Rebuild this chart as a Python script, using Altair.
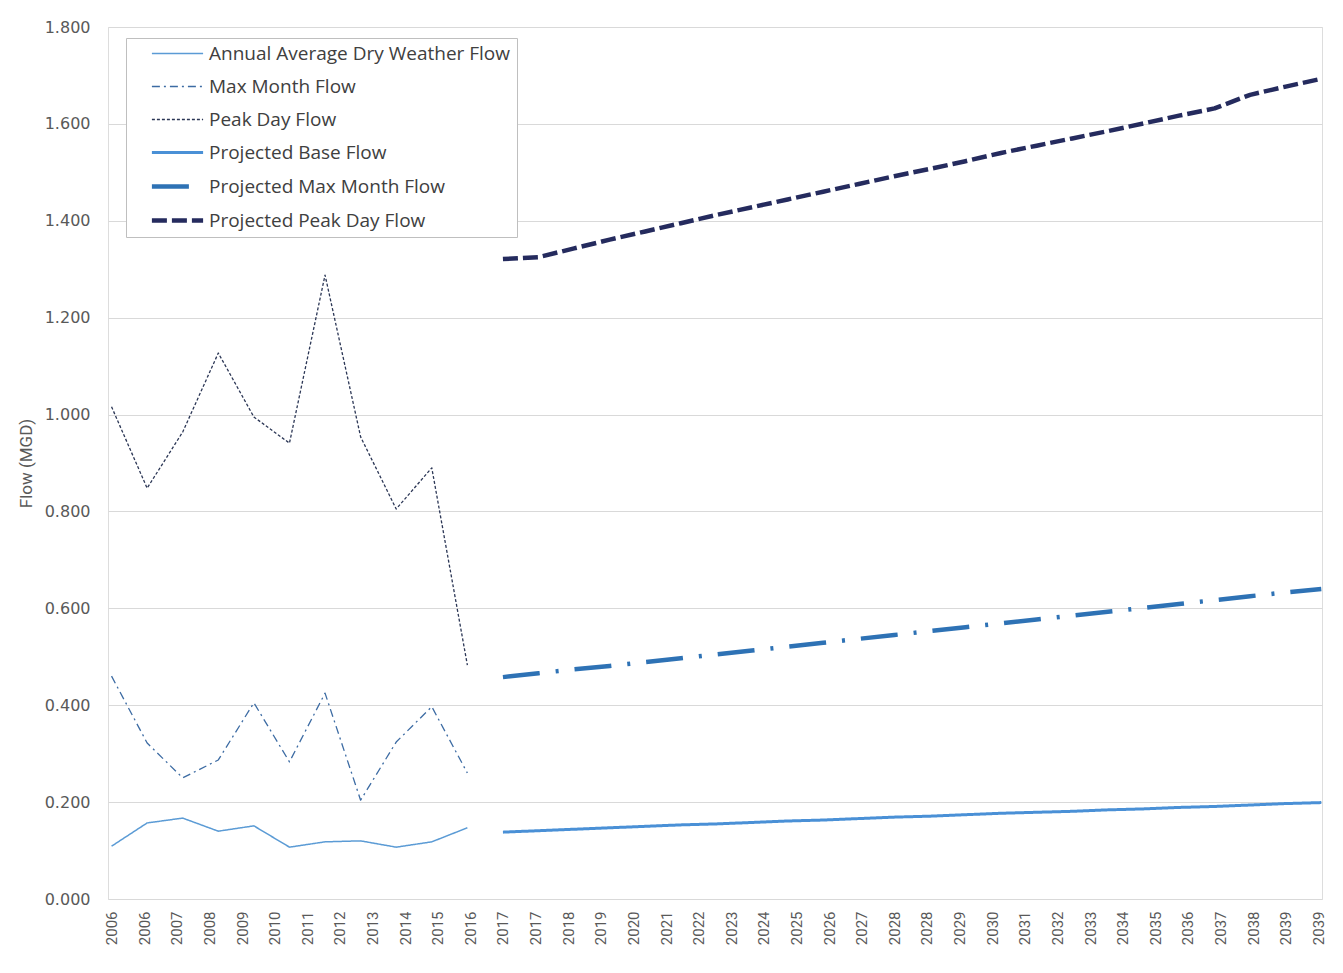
import altair as alt
import pandas as pd

# ---------------- data ----------------
HIST_YEARS = list(range(2006, 2017))
AADWF = [0.109, 0.157, 0.167, 0.140, 0.151, 0.107, 0.118, 0.120, 0.107, 0.118, 0.147]
MAX_MONTH = [0.460, 0.322, 0.250, 0.287, 0.405, 0.283, 0.425, 0.204, 0.324, 0.397, 0.260]
PEAK_DAY = [1.016, 0.848, 0.964, 1.127, 0.995, 0.941, 1.288, 0.954, 0.805, 0.890, 0.483]

PROJ_YEARS = list(range(2017, 2041))
PROJ_BASE = [0.138, 0.141, 0.144, 0.147, 0.150, 0.153, 0.155, 0.158, 0.161, 0.163,
             0.166, 0.169, 0.171, 0.174, 0.177, 0.179, 0.181, 0.184, 0.186, 0.189,
             0.191, 0.194, 0.197, 0.199]
PROJ_MAX = [0.458, 0.466, 0.474, 0.481, 0.489, 0.497, 0.505, 0.513, 0.521, 0.529,
            0.537, 0.545, 0.553, 0.561, 0.569, 0.577, 0.585, 0.593, 0.601, 0.609,
            0.617, 0.625, 0.633, 0.640]
PROJ_PEAK = [1.321, 1.325, 1.343, 1.361, 1.378, 1.395, 1.412, 1.428, 1.444, 1.460,
             1.476, 1.492, 1.507, 1.523, 1.540, 1.555, 1.570, 1.585, 1.601, 1.617,
             1.632, 1.660, 1.677, 1.693]

TICK_LABELS = ["2006", "2006", "2007", "2008", "2009", "2010", "2011", "2012", "2013",
               "2014", "2015", "2016", "2017", "2017", "2018", "2019", "2020", "2021",
               "2022", "2023", "2024", "2025", "2026", "2027", "2028", "2028", "2029",
               "2030", "2031", "2032", "2033", "2034", "2035", "2036", "2037", "2038",
               "2039", "2039"]
Y_TICKS = [0.0, 0.2, 0.4, 0.6, 0.8, 1.0, 1.2, 1.4, 1.6, 1.8]

SERIES = ["Annual Average Dry Weather Flow", "Max Month Flow", "Peak Day Flow",
          "Projected Base Flow", "Projected Max Month Flow", "Projected Peak Day Flow"]
COLORS = ["#5B9BD5", "#3C6BA3", "#2B3655", "#4A90D6", "#2E72B5", "#252B5E"]
DASHES = [[1, 0], [8, 4, 2, 4], [3, 2], [1, 0], [37, 16, 3, 16], [15, 5]]
WIDTHS = [1.5, 1.3, 1.3, 3, 4.5, 4.5]

# ---------------- table ----------------
rows = []
for name, years, vals in [
    (SERIES[0], HIST_YEARS, AADWF),
    (SERIES[1], HIST_YEARS, MAX_MONTH),
    (SERIES[2], HIST_YEARS, PEAK_DAY),
    (SERIES[3], PROJ_YEARS, PROJ_BASE),
    (SERIES[4], PROJ_YEARS, PROJ_MAX),
    (SERIES[5], PROJ_YEARS, PROJ_PEAK),
]:
    for y, v in zip(years, vals):
        rows.append({"year": float(y), "flow": v, "series": name})
df = pd.DataFrame(rows)

# ticks every 11 months starting Jan 2006 (date axis of the original)
tick_vals = [2006 + k * 11 / 12 for k in range(len(TICK_LABELS))]
label_expr = ("[" + ",".join(f"'{t}'" for t in TICK_LABELS) + "]"
              "[round((datum.value-2006)*12/11)]")

chart = (
    alt.Chart(df)
    .mark_line(strokeCap="butt", strokeJoin="round")
    .encode(
        x=alt.X(
            "year:Q",
            scale=alt.Scale(domain=[2005.9, 2040.02], nice=False, zero=False),
            axis=alt.Axis(
                values=tick_vals, labelExpr=label_expr, labelAngle=270,
                labelAlign="right", labelBaseline="middle", labelPadding=12,
                labelFont="Roboto", labelFontSize=15, labelColor="#595959",
                grid=False, ticks=False, domain=False, title=None,
                labelOverlap=False, labelFlush=False,
            ),
        ),
        y=alt.Y(
            "flow:Q",
            scale=alt.Scale(domain=[0, 1.8], nice=False),
            axis=alt.Axis(
                values=Y_TICKS, format=".3f", labelFont="DejaVu Sans",
                labelFontSize=16, labelColor="#595959", labelPadding=18,
                grid=True, gridColor="#d9d9d9", gridWidth=1, ticks=False,
                domain=False, title="Flow (MGD)", titleFont="Roboto",
                titleFontSize=17, titleFontWeight="normal", titleColor="#595959",
                titleX=-73, titleY=436, titleAngle=270, titleAlign="center",
                titleBaseline="bottom",
            ),
        ),
        color=alt.Color(
            "series:N",
            scale=alt.Scale(domain=SERIES, range=COLORS),
            legend=alt.Legend(
                title=None, orient="none", legendX=18, legendY=11,
                fillColor="white", strokeColor="#bfbfbf", padding=6,
                symbolType="M-3.2,0H3.2", symbolSize=256, symbolOffset=35,
                labelOffset=21, rowPadding=13, labelFont="Open Sans",
                labelFontSize=19, labelColor="#404040", labelLimit=420,
                labelExpr="datum.label + '\u2003\u2003'",
            ),
        ),
        strokeDash=alt.StrokeDash(
            "series:N", scale=alt.Scale(domain=SERIES, range=DASHES), legend=None
        ),
        strokeWidth=alt.StrokeWidth(
            "series:O", sort=SERIES,
            scale=alt.Scale(type="ordinal", domain=SERIES, range=WIDTHS), legend=None
        ),
        detail="series:N",
    )
    .properties(
        width=1214, height=872,
        autosize=alt.AutoSizeParams(type="none"),
        padding={"left": 100, "top": 19, "right": 13, "bottom": 60},
    )
    .configure_view(stroke=None)
    .configure(background="white")
)

chart.save("out.html", embed_options={"renderer": "svg", "actions": False})
